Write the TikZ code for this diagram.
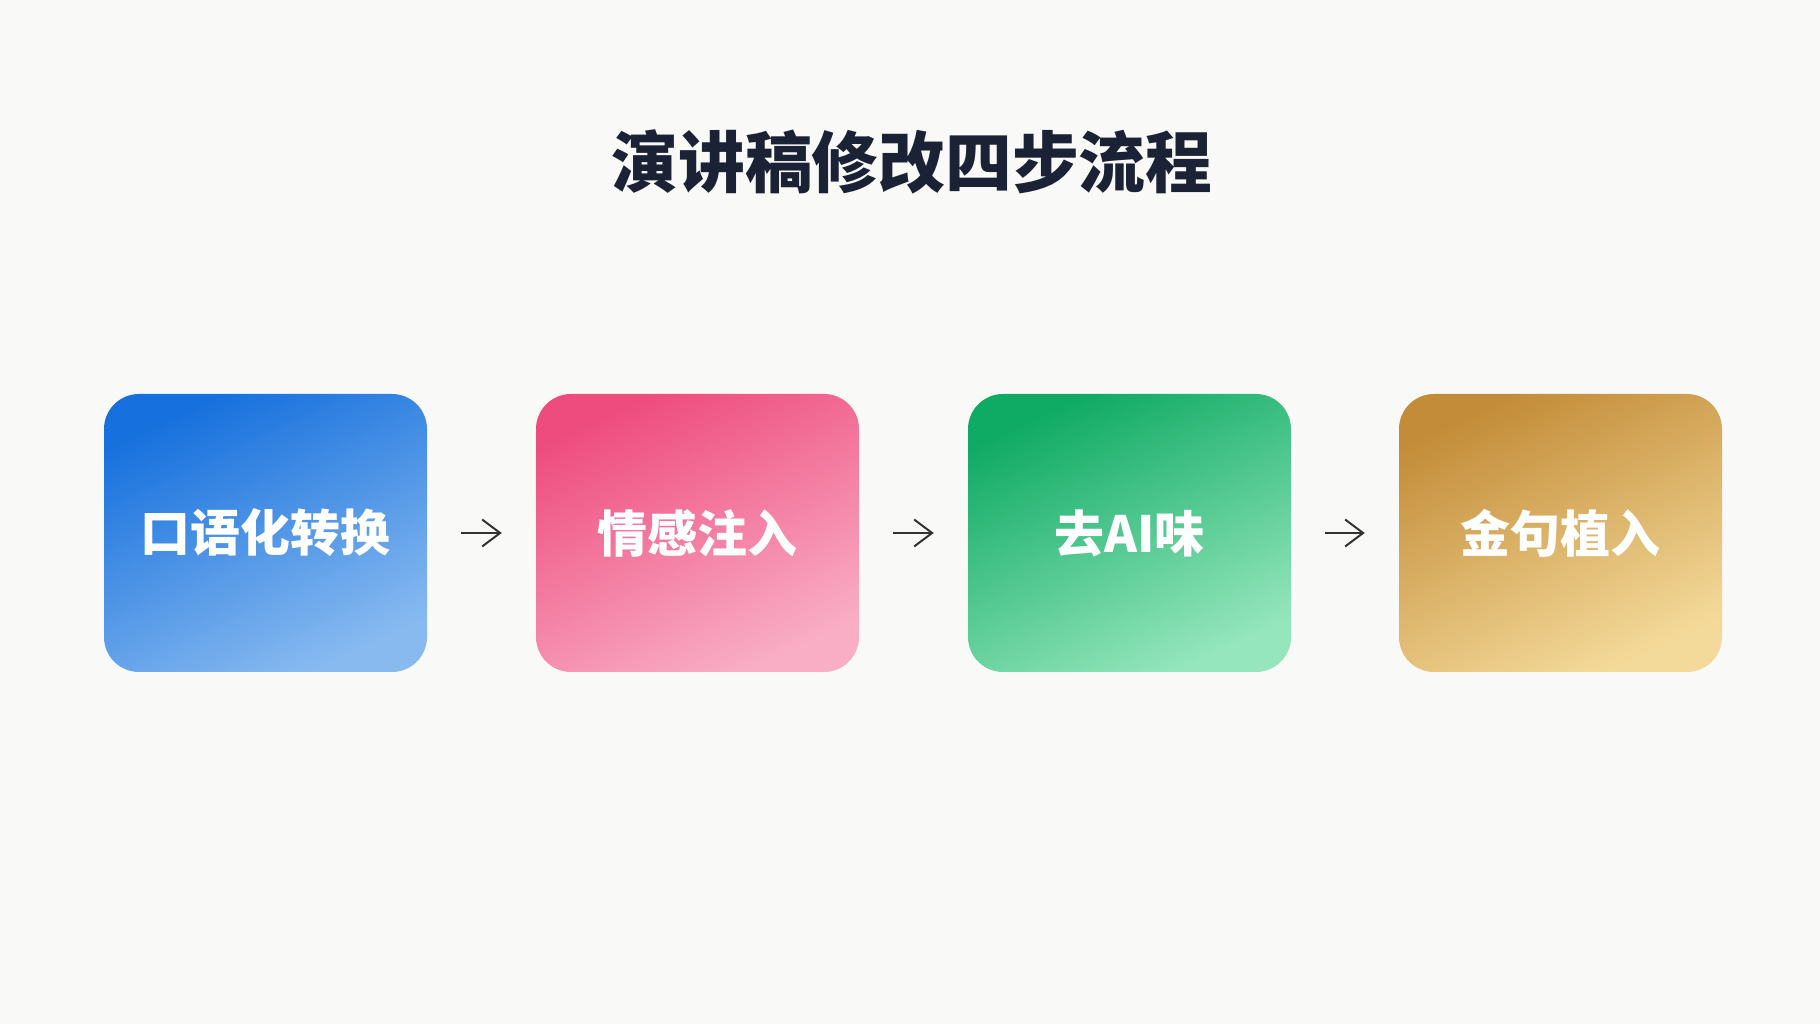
\documentclass[tikz,border=0pt]{standalone}
\usepackage{fontspec}
\newfontfamily\cjk{Noto Sans CJK SC}
\usetikzlibrary{arrows.meta}
\definecolor{bgpaper}{HTML}{F9FAF7}
\definecolor{titleink}{HTML}{1C2236}
\definecolor{arrowink}{HTML}{333333}
\definecolor{blueA}{HTML}{1670DD}
\definecolor{blueB}{HTML}{88BAF0}
\definecolor{pinkA}{HTML}{EE4C7E}
\definecolor{pinkB}{HTML}{F9AEC6}
\definecolor{greenA}{HTML}{0FAA64}
\definecolor{greenB}{HTML}{95E6BC}
\definecolor{goldA}{HTML}{C38C38}
\definecolor{goldB}{HTML}{F4DA9A}
\begin{document}
\begin{tikzpicture}[
        stepbox/.style={minimum width=3.23cm, minimum height=2.78cm, inner sep=0pt,
            rounded corners=0.35cm, shading=axis,
            text=white, font=\cjk\bfseries\fontsize{14.2pt}{16pt}\selectfont},
        flow/.style={arrowink, line width=0.02cm, shorten <=0.335cm, shorten >=0.335cm,
            -{Straight Barb[length=0.18cm, width=0.27cm]}}
    ]
        % paper
        \fill[bgpaper] (0,0) rectangle (18.2,10.24);
        \useasboundingbox (0,0) rectangle (18.2,10.24);

        % title
        \node[text=titleink, font=\cjk\bfseries\fontsize{19pt}{22pt}\selectfont] (title) at (9.12,8.62) {演讲稿修改四步流程};

        % four steps
        \node[stepbox, top color=blueA, bottom color=blueB, shading angle=25] (spoken) at (2.655,4.91) {口语化转换};
        \node[stepbox, top color=pinkA, bottom color=pinkB, shading angle=25] (emotion) at (6.975,4.91) {情感注入};
        \node[stepbox, top color=greenA, bottom color=greenB, shading angle=25] (deai) at (11.295,4.91) {去AI味};
        \node[stepbox, top color=goldA, bottom color=goldB, shading angle=25] (golden) at (15.605,4.91) {金句植入};

        % arrows between steps
        \draw[flow] (spoken) -- (emotion);
        \draw[flow] (emotion) -- (deai);
        \draw[flow] (deai) -- (golden);
    \end{tikzpicture}
\end{document}
